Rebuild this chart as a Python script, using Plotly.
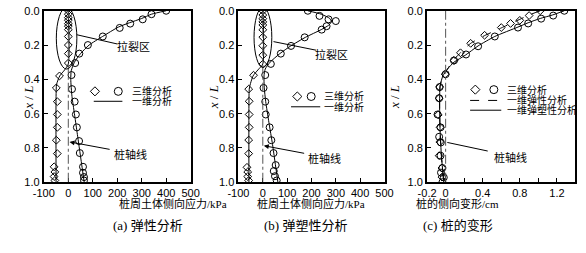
import plotly.graph_objects as go

# ---------------- data ----------------
# (a) elastic analysis: lateral soil stress (kPa) vs depth ratio x/L
a_circ_x = [400, 340, 304, 253, 210, 141, 80, 45, 28, 13, 15, 26, 31, 35, 44, 47, 60, 60, 64, 64]
a_circ_y = [0.0, 0.02, 0.05, 0.075, 0.10, 0.15, 0.20, 0.25, 0.305, 0.375, 0.457, 0.53, 0.605, 0.68, 0.76, 0.83, 0.91, 0.945, 0.97, 0.99]
a_diam_x = [0, 0, 0, 0, 0, 0, 0, 0, 0, 0, 0, -36, -49, -45, -45, -45, -49, -45, -58, -55, -58, -55]
a_diam_y = [0.0, 0.02, 0.04, 0.055, 0.075, 0.09, 0.11, 0.15, 0.20, 0.25, 0.305, 0.38, 0.45, 0.53, 0.605, 0.68, 0.755, 0.833, 0.91, 0.94, 0.967, 0.99]
a_pos_x = [400, 340, 300, 250, 205, 140, 85, 50, 25, 12, 10, 15, 25, 35, 45, 55, 65]
a_pos_y = [0.0, 0.02, 0.045, 0.07, 0.095, 0.15, 0.20, 0.25, 0.30, 0.35, 0.40, 0.50, 0.60, 0.70, 0.80, 0.90, 1.0]
a_neg_x = [0, 0, -15, -35, -48, -50, -50]
a_neg_y = [0.0, 0.31, 0.345, 0.38, 0.43, 0.50, 1.0]

# (b) elasto-plastic analysis
b_circ_x = [185, 233, 270, 300, 262, 242, 172, 116, 74, 33, 10, 3, 10, 12, 28, 35, 44, 53, 45, 50, 57]
b_circ_y = [0.0, 0.03, 0.05, 0.06, 0.09, 0.11, 0.155, 0.205, 0.25, 0.31, 0.375, 0.45, 0.53, 0.605, 0.68, 0.755, 0.83, 0.90, 0.935, 0.965, 0.99]
b_diam_x = [0, 0, 0, 0, 0, 0, 0, 0, 0, 0, -38, -58, -56, -56, -56, -58, -58, -65, -62, -62, -58]
b_diam_y = [0.0, 0.025, 0.046, 0.065, 0.083, 0.111, 0.154, 0.204, 0.259, 0.311, 0.376, 0.457, 0.528, 0.605, 0.68, 0.754, 0.833, 0.913, 0.94, 0.967, 0.99]
b_pos_x = [185, 240, 275, 282, 270, 240, 175, 115, 70, 30, 10, 5, 6, 12, 25, 40, 50, 62]
b_pos_y = [0.0, 0.02, 0.045, 0.065, 0.085, 0.11, 0.155, 0.205, 0.25, 0.30, 0.34, 0.38, 0.45, 0.53, 0.65, 0.78, 0.88, 1.0]
b_neg_x = [0, 0, -20, -40, -55, -57, -57]
b_neg_y = [0.0, 0.31, 0.345, 0.38, 0.45, 0.55, 1.0]

# (c) pile lateral deflection (cm)
c_circ_x = [1.28, 1.16, 1.03, 0.89, 0.78, 0.53, 0.35, 0.22, 0.09, 0.0, -0.065, -0.07, -0.087, -0.055, -0.07, -0.052, -0.055, -0.035, -0.05, -0.02, -0.035]
c_circ_y = [0.0, 0.028, 0.046, 0.074, 0.098, 0.15, 0.207, 0.255, 0.29, 0.37, 0.445, 0.51, 0.605, 0.68, 0.735, 0.768, 0.845, 0.917, 0.944, 0.972, 1.0]
c_diam_x = [1.02, 0.90, 0.80, 0.70, 0.60, 0.42, 0.27, 0.16, 0.09, -0.005, -0.065, -0.07, -0.08, -0.06, -0.063, -0.07, -0.04, -0.04]
c_diam_y = [0.0, 0.028, 0.056, 0.074, 0.098, 0.143, 0.19, 0.245, 0.29, 0.37, 0.445, 0.51, 0.607, 0.68, 0.765, 0.845, 0.917, 0.97]
c_el_x = [1.02, 0.90, 0.80, 0.70, 0.60, 0.42, 0.27, 0.16, 0.08, 0.02, -0.03, -0.06, -0.065, -0.06, -0.045, -0.02]
c_el_y = [0.0, 0.025, 0.05, 0.075, 0.10, 0.145, 0.19, 0.245, 0.29, 0.34, 0.38, 0.44, 0.55, 0.70, 0.85, 1.0]
c_ep_x = [1.28, 1.15, 1.02, 0.89, 0.78, 0.53, 0.35, 0.21, 0.09, 0.02, -0.03, -0.06, -0.065, -0.06, -0.045, -0.02]
c_ep_y = [0.0, 0.025, 0.045, 0.07, 0.095, 0.15, 0.205, 0.26, 0.30, 0.34, 0.38, 0.44, 0.55, 0.70, 0.85, 1.0]

y_ticks = [0.0, 0.2, 0.4, 0.6, 0.8, 1.0]
ab_xticks = [-100, 0, 100, 200, 300, 400, 500]
c_xticks = [-0.2, 0, 0.2, 0.4, 0.6, 0.8, 1.0, 1.2, 1.4]
c_xlabels = ["-0.2", "0", "", "0.4", "", "0.8", "", "1.2", ""]

# ---------------- layout helpers ----------------
W, H = 586, 253
def px_x(p): return p / W
def px_y(p): return 1 - p / H

panels = [
    dict(xr=[-100, 500], xdom=[34, 186]),
    dict(xr=[-100, 500], xdom=[235.5, 386.7]),
    dict(xr=[-0.2, 1.4], xdom=[430.8, 584.4]),
]
ydom = [px_y(185), px_y(5)]

TICKFONT = dict(family="Liberation Sans, Arial", size=11, color="black")
CJK = "Liberation Serif, Noto Sans CJK SC"
BLACK = "black"
DSIZE, CSIZE = 6, 7

fig = go.Figure()

def sfx(i): return "" if i == 0 else str(i + 1)

def add_series(i, lx, ly, dash="solid"):
    fig.add_trace(go.Scatter(x=lx, y=ly, mode="lines", line=dict(color=BLACK, width=1, dash=dash, shape="spline", smoothing=0.6),
                             xaxis="x" + sfx(i), yaxis="y" + sfx(i), showlegend=False, hoverinfo="skip"))

def add_marks(i, mx, my, sym, size):
    fig.add_trace(go.Scatter(x=mx, y=my, mode="markers",
                             marker=dict(symbol=sym, size=size, color=BLACK, line=dict(color=BLACK, width=1)),
                             xaxis="x" + sfx(i), yaxis="y" + sfx(i), showlegend=False, hoverinfo="skip"))

# pile axis dash-dot lines
for i, p in enumerate(panels):
    fig.add_shape(type="line", xref="x" + sfx(i), yref="y" + sfx(i), x0=0, x1=0, y0=0, y1=1,
                  line=dict(color="#555555", width=1, dash="dashdot"))

add_series(0, a_pos_x, a_pos_y)
add_series(0, a_neg_x, a_neg_y)
add_marks(0, a_diam_x, a_diam_y, "diamond-open", DSIZE)
add_marks(0, a_circ_x, a_circ_y, "circle-open", CSIZE)

add_series(1, b_pos_x, b_pos_y)
add_series(1, b_neg_x, b_neg_y)
add_marks(1, b_diam_x, b_diam_y, "diamond-open", DSIZE)
add_marks(1, b_circ_x, b_circ_y, "circle-open", CSIZE)

add_series(2, c_el_x, c_el_y, dash="dash")
add_series(2, c_ep_x, c_ep_y)
add_marks(2, c_diam_x, c_diam_y, "diamond-open", DSIZE)
add_marks(2, c_circ_x, c_circ_y, "circle-open", CSIZE)

# in-plot legends (positions as axis fractions)
def fx(i, f):
    lo, hi = panels[i]["xr"]
    return lo + f * (hi - lo)

leg = [
    dict(d=0.348, c=0.507, t=0.585, y1=0.47, y2=0.528, l0=0.34, l1=0.535, lines=[("一维分析", "solid")]),
    dict(d=0.403, c=0.498, t=0.575, y1=0.50, y2=0.56, l0=0.36, l1=0.56, lines=[("一维分析", "solid")]),
    dict(d=0.325, c=0.45, t=0.525, y1=0.46, y2=0.523, l0=0.29, l1=0.50, lines=[("一维弹性分析", "dash"), ("一维弹塑性分析", "solid")]),
]
annotations = []
for i, L in enumerate(leg):
    add_marks(i, [fx(i, L["d"])], [L["y1"]], "diamond-open", DSIZE + 1)
    add_marks(i, [fx(i, L["c"])], [L["y1"]], "circle-open", CSIZE + 1)
    annotations.append(dict(x=fx(i, L["t"]), y=L["y1"], xref="x" + sfx(i), yref="y" + sfx(i), text="三维分析",
                            showarrow=False, xanchor="left", font=dict(family=CJK, size=10, color=BLACK)))
    for k, (txt, dash) in enumerate(L["lines"]):
        yy = L["y2"] + k * 0.057
        fig.add_shape(type="line", xref="x" + sfx(i), yref="y" + sfx(i), x0=fx(i, L["l0"]), x1=fx(i, L["l1"]),
                      y0=yy, y1=yy, line=dict(color=BLACK, width=1, dash=dash))
        annotations.append(dict(x=fx(i, L["t"]), y=yy, xref="x" + sfx(i), yref="y" + sfx(i), text=txt,
                                showarrow=False, xanchor="left", font=dict(family=CJK, size=10, color=BLACK)))

# crack zone ellipses and labels
ell = [(-49, 35, -0.02, 0.34), (-36, 37, -0.02, 0.33)]
crack = [((35, 0.14), (201, 0.194), (268, 0.21)), ((44, 0.18), (219, 0.23), (281, 0.255))]
for i in range(2):
    x0, x1, y0, y1 = ell[i]
    fig.add_shape(type="circle", xref="x" + sfx(i), yref="y" + sfx(i), x0=x0, x1=x1, y0=y0, y1=y1,
                  line=dict(color=BLACK, width=1))
    (sx, sy), (ex, ey), (tx, ty) = crack[i]
    fig.add_shape(type="line", xref="x" + sfx(i), yref="y" + sfx(i), x0=sx, y0=sy, x1=ex, y1=ey,
                  line=dict(color=BLACK, width=1))
    annotations.append(dict(x=tx, y=ty, xref="x" + sfx(i), yref="y" + sfx(i), text="拉裂区", showarrow=False,
                            font=dict(family=CJK, size=11, color=BLACK)))

# pile axis labels
pile = [((5, 0.765), (175, 0.81), (254, 0.84), True),
        ((4, 0.787), (176, 0.833), (255, 0.86), True),
        ((0.018, 0.768), (0.47, 0.82), (0.70, 0.857), False)]
for i, ((hx, hy), (tx0, ty0), (lx, ly), arrow) in enumerate(pile):
    annotations.append(dict(x=hx, y=hy, ax=tx0, ay=ty0, xref="x" + sfx(i), yref="y" + sfx(i),
                            axref="x" + sfx(i), ayref="y" + sfx(i), text="", showarrow=True,
                            arrowhead=2 if arrow else 0, arrowsize=1, arrowwidth=1, arrowcolor=BLACK, standoff=0))
    annotations.append(dict(x=lx, y=ly, xref="x" + sfx(i), yref="y" + sfx(i), text="桩轴线", showarrow=False,
                            font=dict(family=CJK, size=11, color=BLACK)))

# axis titles and captions
xt = ["桩周土体侧向应力/kPa", "桩周土体侧向应力/kPa", "桩的侧向变形/cm"]
cap = ["(a) 弹性分析", "(b) 弹塑性分析", "(c) 桩的变形"]
ylab_x = [8, 210, 407]
for i, p in enumerate(panels):
    cx = (p["xdom"][0] + p["xdom"][1]) / 2
    annotations.append(dict(x=px_x(cx), y=px_y(216), xref="paper", yref="paper", text=xt[i], showarrow=False,
                            font=dict(family=CJK, size=11, color=BLACK)))
    annotations.append(dict(x=px_x(cx - 6), y=px_y(240), xref="paper", yref="paper", text=cap[i], showarrow=False,
                            font=dict(family=CJK, size=13, color=BLACK)))
    annotations.append(dict(x=px_x(ylab_x[i]), y=px_y(96), xref="paper", yref="paper", text="<i>x</i> / <i>L</i>",
                            showarrow=False, textangle=-90, font=dict(family="Liberation Serif", size=13, color=BLACK)))

lay = dict(width=W, height=H, margin=dict(l=0, r=0, t=0, b=0), paper_bgcolor="white", plot_bgcolor="white",
           annotations=annotations)
for i, p in enumerate(panels):
    xa = dict(domain=[px_x(p["xdom"][0]), px_x(p["xdom"][1])], range=p["xr"], anchor="y" + sfx(i),
              showline=True, linecolor=BLACK, linewidth=2, mirror=True, ticks="inside", ticklen=4,
              tickcolor=BLACK, tickwidth=1, showgrid=False, zeroline=False, tickfont=TICKFONT, fixedrange=True,
              ticklabeloverflow="allow")
    if i < 2:
        xa.update(tickvals=ab_xticks, ticktext=[str(v) for v in ab_xticks])
    else:
        xa.update(tickvals=c_xticks, ticktext=c_xlabels)
    ya = dict(domain=ydom, range=[1.0, 0.0], anchor="x" + sfx(i), showline=True, linecolor=BLACK, linewidth=2,
              mirror=True, ticks="inside", ticklen=4, tickcolor=BLACK, tickwidth=1, showgrid=False, zeroline=False,
              tickvals=y_ticks, ticktext=["%.1f" % v for v in y_ticks], tickfont=TICKFONT, fixedrange=True,
              ticklabeloverflow="allow")
    lay["xaxis" + sfx(i)] = xa
    lay["yaxis" + sfx(i)] = ya

fig.update_layout(**lay)
fig.write_html("out.html")
